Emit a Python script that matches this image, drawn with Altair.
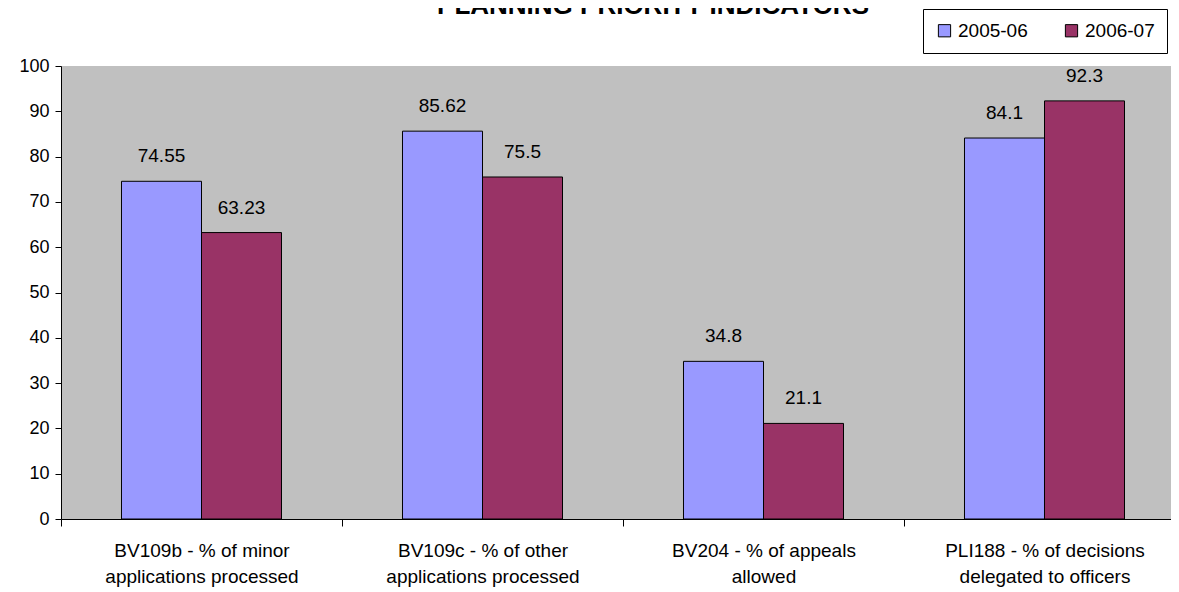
import altair as alt
import pandas as pd

categories = [
    "BV109b - % of minor\napplications processed",
    "BV109c - % of other\napplications processed",
    "BV204 - % of appeals\nallowed",
    "PLI188 - % of decisions\ndelegated to officers",
]
series = ["2005-06", "2006-07"]
values_2005_06 = [74.55, 85.62, 34.8, 84.1]
values_2006_07 = [63.23, 75.5, 21.1, 92.3]
colors = ["#9999FF", "#993366"]
y_ticks = [0, 10, 20, 30, 40, 50, 60, 70, 80, 90, 100]
title_text = ["PLANNING PRIORITY INDICATORS"]

rows = []
for c, a, b in zip(categories, values_2005_06, values_2006_07):
    rows.append({"Indicator": c, "Year": series[0], "Value": a, "Label": str(a)})
    rows.append({"Indicator": c, "Year": series[1], "Value": b, "Label": str(b)})
df = pd.DataFrame(rows)

FONT = "Liberation Sans"

x_enc = alt.X(
    "Indicator:N",
    sort=categories,
    scale=alt.Scale(paddingInner=0, paddingOuter=0),
    axis=alt.Axis(
        title=None,
        labelAngle=0,
        labelExpr="split(datum.label, '\\n')",
        tickBand="extent",
        tickSize=7,
        tickColor="black",
        domainColor="black",
        labelFont=FONT,
        labelFontSize=19,
        labelColor="black",
        labelLimit=400,
        labelLineHeight=26,
        labelPadding=15,
        labelBaseline="top",
    ),
)
xoff_enc = alt.XOffset(
    "Year:N", sort=series, scale=alt.Scale(paddingInner=0, paddingOuter=0.756)
)
y_enc = alt.Y(
    "Value:Q",
    scale=alt.Scale(domain=[0, 100], nice=False),
    axis=alt.Axis(
        title=None,
        values=y_ticks,
        grid=False,
        tickSize=6,
        tickColor="black",
        domainColor="black",
        labelFont=FONT,
        labelFontSize=18,
        labelColor="black",
        labelPadding=6,
    ),
)

base = alt.Chart(df)

bars = base.mark_bar(stroke="black", strokeWidth=1).encode(
    x=x_enc,
    xOffset=xoff_enc,
    y=y_enc,
    color=alt.Color(
        "Year:N",
        sort=series,
        scale=alt.Scale(domain=series, range=colors),
        legend=alt.Legend(
            title=None,
            orient="none",
            legendX=862,
            legendY=-57,
            direction="horizontal",
            symbolType="square",
            symbolSize=150,
            symbolStrokeColor="black",
            symbolStrokeWidth=1,
            labelFont=FONT,
            labelFontSize=19,
            labelColor="black",
            labelOffset=4,
            columnPadding=34,
            padding=12,
            strokeColor="black",
            fillColor="white",
        ),
    ),
)

labels = base.mark_text(
    font=FONT, fontSize=19, color="black", baseline="middle", dy=-25
).encode(x=x_enc, xOffset=xoff_enc, y=y_enc, text="Label:N")

title = alt.Chart(pd.DataFrame({"t": title_text})).mark_text(
    font=FONT, fontSize=26, fontWeight="bold", color="black",
    align="center", baseline="alphabetic",
).encode(x=alt.value(592), y=alt.value(-52), text="t:N")

chart = (
    alt.layer(bars, labels, title)
    .properties(
        width=1124,
        height=453,
        autosize=alt.AutoSizeParams(type="none"),
        padding={"left": 53, "top": 58, "right": -14, "bottom": 70},
        background="white",
    )
    .configure_view(fill="#C0C0C0", strokeWidth=0)
)

chart.save("out.html", embed_options={"renderer": "svg", "actions": False})
